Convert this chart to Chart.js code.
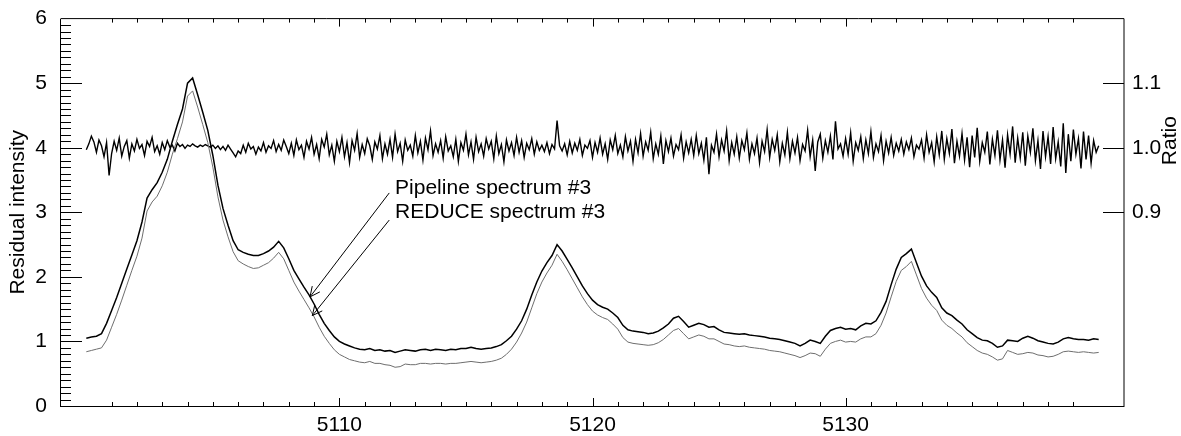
<!DOCTYPE html>
<html>
<head>
<meta charset="utf-8">
<script src="https://cdn.jsdelivr.net/npm/chart.js@4.4.1/dist/chart.umd.min.js"></script>
<style>
  html, body { margin: 0; padding: 0; background: #fff; }
  canvas { display: block; }
</style>
</head>
<body>
<canvas id="myChart" width="1181" height="436"></canvas>
<script>
// wavelength grid (Angstrom), 0.1 step
const wave = [
    5100.0,5100.1,5100.2,5100.3,5100.4,5100.5,5100.6,5100.7,5100.8,5100.9,
    5101.0,5101.1,5101.2,5101.3,5101.4,5101.5,5101.6,5101.7,5101.8,5101.9,
    5102.0,5102.1,5102.2,5102.3,5102.4,5102.5,5102.6,5102.7,5102.8,5102.9,
    5103.0,5103.1,5103.2,5103.3,5103.4,5103.5,5103.6,5103.7,5103.8,5103.9,
    5104.0,5104.1,5104.2,5104.3,5104.4,5104.5,5104.6,5104.7,5104.8,5104.9,
    5105.0,5105.1,5105.2,5105.3,5105.4,5105.5,5105.6,5105.7,5105.8,5105.9,
    5106.0,5106.1,5106.2,5106.3,5106.4,5106.5,5106.6,5106.7,5106.8,5106.9,
    5107.0,5107.1,5107.2,5107.3,5107.4,5107.5,5107.6,5107.7,5107.8,5107.9,
    5108.0,5108.1,5108.2,5108.3,5108.4,5108.5,5108.6,5108.7,5108.8,5108.9,
    5109.0,5109.1,5109.2,5109.3,5109.4,5109.5,5109.6,5109.7,5109.8,5109.9,
    5110.0,5110.1,5110.2,5110.3,5110.4,5110.5,5110.6,5110.7,5110.8,5110.9,
    5111.0,5111.1,5111.2,5111.3,5111.4,5111.5,5111.6,5111.7,5111.8,5111.9,
    5112.0,5112.1,5112.2,5112.3,5112.4,5112.5,5112.6,5112.7,5112.8,5112.9,
    5113.0,5113.1,5113.2,5113.3,5113.4,5113.5,5113.6,5113.7,5113.8,5113.9,
    5114.0,5114.1,5114.2,5114.3,5114.4,5114.5,5114.6,5114.7,5114.8,5114.9,
    5115.0,5115.1,5115.2,5115.3,5115.4,5115.5,5115.6,5115.7,5115.8,5115.9,
    5116.0,5116.1,5116.2,5116.3,5116.4,5116.5,5116.6,5116.7,5116.8,5116.9,
    5117.0,5117.1,5117.2,5117.3,5117.4,5117.5,5117.6,5117.7,5117.8,5117.9,
    5118.0,5118.1,5118.2,5118.3,5118.4,5118.5,5118.6,5118.7,5118.8,5118.9,
    5119.0,5119.1,5119.2,5119.3,5119.4,5119.5,5119.6,5119.7,5119.8,5119.9,
    5120.0,5120.1,5120.2,5120.3,5120.4,5120.5,5120.6,5120.7,5120.8,5120.9,
    5121.0,5121.1,5121.2,5121.3,5121.4,5121.5,5121.6,5121.7,5121.8,5121.9,
    5122.0,5122.1,5122.2,5122.3,5122.4,5122.5,5122.6,5122.7,5122.8,5122.9,
    5123.0,5123.1,5123.2,5123.3,5123.4,5123.5,5123.6,5123.7,5123.8,5123.9,
    5124.0,5124.1,5124.2,5124.3,5124.4,5124.5,5124.6,5124.7,5124.8,5124.9,
    5125.0,5125.1,5125.2,5125.3,5125.4,5125.5,5125.6,5125.7,5125.8,5125.9,
    5126.0,5126.1,5126.2,5126.3,5126.4,5126.5,5126.6,5126.7,5126.8,5126.9,
    5127.0,5127.1,5127.2,5127.3,5127.4,5127.5,5127.6,5127.7,5127.8,5127.9,
    5128.0,5128.1,5128.2,5128.3,5128.4,5128.5,5128.6,5128.7,5128.8,5128.9,
    5129.0,5129.1,5129.2,5129.3,5129.4,5129.5,5129.6,5129.7,5129.8,5129.9,
    5130.0,5130.1,5130.2,5130.3,5130.4,5130.5,5130.6,5130.7,5130.8,5130.9,
    5131.0,5131.1,5131.2,5131.3,5131.4,5131.5,5131.6,5131.7,5131.8,5131.9,
    5132.0,5132.1,5132.2,5132.3,5132.4,5132.5,5132.6,5132.7,5132.8,5132.9,
    5133.0,5133.1,5133.2,5133.3,5133.4,5133.5,5133.6,5133.7,5133.8,5133.9,
    5134.0,5134.1,5134.2,5134.3,5134.4,5134.5,5134.6,5134.7,5134.8,5134.9,
    5135.0,5135.1,5135.2,5135.3,5135.4,5135.5,5135.6,5135.7,5135.8,5135.9,
    5136.0,5136.1,5136.2,5136.3,5136.4,5136.5,5136.6,5136.7,5136.8,5136.9,
    5137.0,5137.1,5137.2,5137.3,5137.4,5137.5,5137.6,5137.7,5137.8,5137.9,
    5138.0,5138.1,5138.2,5138.3,5138.4,5138.5,5138.6,5138.7,5138.8,5138.9,
    5139.0,5139.1,5139.2,5139.3,5139.4,5139.5,5139.6,5139.7,5139.8,5139.9,
    5140.0
];

// spectra are sampled every 0.2 A (every other wave point)
const pipeline = [
    1.05,1.07,1.08,1.12,1.28,1.48,1.68,1.90,2.12,2.34,
    2.56,2.85,3.22,3.35,3.46,3.62,3.82,4.10,4.36,4.60,
    5.00,5.08,4.82,4.55,4.27,3.88,3.42,3.06,2.80,2.56,
    2.42,2.38,2.35,2.33,2.33,2.36,2.40,2.46,2.55,2.45,
    2.28,2.10,1.97,1.84,1.72,1.58,1.42,1.28,1.17,1.07,
    1.00,0.96,0.93,0.90,0.88,0.87,0.89,0.86,0.87,0.85,
    0.86,0.83,0.85,0.87,0.86,0.85,0.87,0.88,0.86,0.88,
    0.87,0.86,0.88,0.87,0.89,0.89,0.91,0.89,0.88,0.89,
    0.90,0.92,0.95,1.01,1.08,1.19,1.32,1.50,1.72,1.92,
    2.09,2.22,2.33,2.50,2.40,2.27,2.14,2.00,1.86,1.74,
    1.64,1.57,1.53,1.50,1.44,1.37,1.25,1.18,1.16,1.15,
    1.14,1.12,1.13,1.16,1.21,1.27,1.36,1.39,1.31,1.22,
    1.25,1.28,1.26,1.22,1.23,1.18,1.14,1.13,1.12,1.11,
    1.12,1.10,1.09,1.08,1.07,1.05,1.04,1.03,1.01,0.99,
    0.97,0.93,0.97,1.02,1.00,0.97,1.08,1.17,1.20,1.22,
    1.19,1.20,1.18,1.24,1.28,1.27,1.32,1.45,1.62,1.88,
    2.12,2.30,2.36,2.43,2.22,2.01,1.86,1.76,1.68,1.52,
    1.44,1.40,1.33,1.27,1.18,1.12,1.06,1.02,1.01,0.97,
    0.91,0.93,1.02,1.01,1.00,1.05,1.08,1.05,1.01,0.99,
    0.97,0.96,0.99,1.04,1.06,1.04,1.03,1.03,1.02,1.04,
    1.03
];

const reduce = [
    0.84,0.86,0.88,0.90,1.02,1.22,1.42,1.64,1.87,2.10,
    2.32,2.60,3.02,3.16,3.25,3.41,3.62,3.90,4.14,4.40,
    4.80,4.88,4.63,4.36,4.08,3.70,3.24,2.88,2.62,2.39,
    2.25,2.20,2.16,2.13,2.14,2.18,2.22,2.29,2.38,2.28,
    2.10,1.92,1.78,1.65,1.52,1.38,1.22,1.08,0.97,0.87,
    0.80,0.76,0.72,0.70,0.68,0.67,0.69,0.66,0.66,0.64,
    0.63,0.60,0.61,0.65,0.64,0.64,0.66,0.66,0.65,0.66,
    0.66,0.65,0.66,0.66,0.67,0.68,0.69,0.68,0.67,0.68,
    0.69,0.71,0.74,0.80,0.88,0.99,1.13,1.30,1.52,1.74,
    1.92,2.06,2.18,2.35,2.24,2.11,1.97,1.83,1.69,1.57,
    1.47,1.41,1.37,1.34,1.27,1.19,1.06,0.99,0.97,0.96,
    0.95,0.94,0.95,0.98,1.03,1.10,1.17,1.20,1.12,1.04,
    1.07,1.10,1.08,1.04,1.04,1.00,0.96,0.95,0.93,0.92,
    0.93,0.91,0.90,0.89,0.88,0.86,0.85,0.84,0.82,0.80,
    0.78,0.75,0.78,0.82,0.81,0.77,0.88,0.97,1.00,1.02,
    0.99,1.00,0.99,1.04,1.07,1.07,1.12,1.25,1.44,1.69,
    1.93,2.10,2.16,2.24,2.03,1.82,1.67,1.56,1.48,1.33,
    1.25,1.20,1.13,1.07,0.98,0.92,0.86,0.82,0.80,0.76,
    0.71,0.73,0.86,0.83,0.80,0.81,0.83,0.82,0.79,0.78,
    0.76,0.77,0.80,0.84,0.85,0.84,0.83,0.84,0.83,0.82,
    0.83
];

// pipeline / REDUCE, every 0.1 A (right axis)
const ratio = [
    0.997,1.006,1.018,1.009,0.993,1.012,1.003,0.986,1.008,0.957,
    0.991,1.010,0.996,1.015,0.987,1.002,1.011,0.984,1.006,0.995,
    1.013,0.999,1.005,0.988,1.010,1.002,1.016,0.994,1.003,0.990,
    1.008,0.997,1.011,1.001,1.004,0.995,1.007,1.002,1.005,0.999,
    1.004,1.002,1.006,1.003,1.001,1.004,1.002,1.005,1.003,1.001,
    1.004,0.999,1.003,0.997,1.002,0.996,1.004,0.998,0.992,0.986,
    0.995,0.991,1.004,0.993,1.007,0.998,1.002,0.990,1.001,0.995,
    1.008,0.993,1.003,0.999,1.011,0.994,1.005,0.996,1.012,1.002,
    0.991,1.007,0.988,1.012,0.997,1.004,0.985,1.010,0.998,1.016,
    0.990,1.005,0.983,1.013,1.001,1.021,0.989,1.004,0.979,1.010,
    0.994,1.016,0.986,1.008,0.977,1.011,0.996,1.022,0.985,1.005,
    0.991,1.014,1.003,0.982,1.009,0.998,1.019,0.983,1.006,0.990,
    1.013,0.985,1.021,0.994,1.007,0.979,1.012,0.996,1.004,0.987,
    1.019,0.992,1.010,0.981,1.015,0.997,1.026,0.988,1.006,0.993,
    1.011,0.984,1.017,0.995,1.003,0.986,1.013,0.979,1.008,0.996,
    1.021,0.989,1.009,0.982,1.016,0.994,1.006,0.987,1.014,0.998,
    1.010,0.983,1.018,0.991,1.005,0.978,1.012,0.995,1.008,0.988,
    1.016,0.993,1.011,0.985,1.007,0.997,1.014,0.990,1.009,0.996,
    1.004,0.994,1.008,0.991,1.005,0.998,1.042,1.003,0.995,1.006,
    0.989,1.010,0.992,1.007,0.996,1.013,0.988,1.004,0.999,1.011,
    0.985,1.008,0.993,1.015,0.990,1.006,0.982,1.012,0.997,1.019,
    0.991,1.004,0.986,1.017,0.995,1.010,0.979,1.013,0.992,1.022,
    0.987,1.009,0.996,1.024,0.983,1.006,0.990,1.018,0.975,1.011,
    0.994,1.015,0.987,1.005,0.997,1.020,0.984,1.009,0.992,1.013,
    0.988,1.019,0.991,1.007,0.981,1.016,0.959,1.004,0.993,1.021,
    0.986,1.012,0.995,1.026,0.980,1.008,0.990,1.017,0.984,1.011,
    0.997,1.023,0.982,1.006,0.991,1.015,0.977,1.010,0.994,1.028,
    0.985,1.013,0.996,1.020,0.978,1.007,0.989,1.024,0.983,1.010,
    0.992,1.016,0.980,1.005,0.995,1.027,0.986,1.012,0.964,1.009,
    1.021,0.984,1.011,0.993,1.018,0.982,1.041,0.998,1.006,0.987,
    1.014,0.990,1.023,0.979,1.008,0.996,1.017,0.983,1.012,0.991,
    1.025,0.985,1.006,0.994,1.019,0.980,1.010,0.992,1.016,0.988,
    1.007,0.995,1.013,0.990,1.009,0.997,1.015,0.986,1.004,0.998,
    1.012,0.984,1.020,0.993,1.008,0.978,1.017,0.989,1.026,0.982,
    1.014,0.991,1.029,0.976,1.010,0.987,1.022,0.981,1.016,0.970,
    1.019,0.985,1.031,0.979,1.008,0.993,1.025,0.974,1.013,0.988,
    1.027,0.981,1.012,0.969,1.020,0.990,1.033,0.977,1.015,0.984,
    1.024,0.972,1.018,0.993,1.030,0.980,1.011,0.967,1.026,0.986,
    1.017,0.975,1.032,0.983,1.009,0.971,1.038,0.961,1.021,0.979,
    1.028,0.990,1.014,0.968,1.025,0.982,1.019,0.976,1.011,0.993,
    1.003
];

const x_ticks = [5110, 5120, 5130];
const y_ticks = [0, 1, 2, 3, 4, 5, 6];
const ratio_ticks = [0.9, 1.0, 1.1];
const note_labels = ['Pipeline spectrum #3', 'REDUCE spectrum #3'];

const FONT = '"Liberation Sans", Arial, Helvetica, sans-serif';
const spec_wave = wave.filter((w, i) => i % 2 === 0);
const toXY = (xs, ys) => ys.map((v, i) => ({x: xs[i], y: v}));

// note text + arrow, in data units of the left axis
const notes = [
    {text: note_labels[0], tx: 5112.2, ty: 3.29, from: [5111.97, 3.30], to: [5108.84, 1.69]},
    {text: note_labels[1], tx: 5112.2, ty: 2.91, from: [5111.97, 2.88], to: [5108.93, 1.40]},
];

const bgWhite = {
    id: 'bgWhite',
    beforeDraw(chart) {
        const ctx = chart.ctx;
        ctx.save();
        ctx.fillStyle = '#fff';
        ctx.fillRect(0, 0, chart.width, chart.height);
        ctx.restore();
    }
};

// IDL style box with inward ticks
const idlAxes = {
    id: 'idlAxes',
    afterDraw(chart) {
        const {ctx, chartArea: a} = chart;
        const {x, y, y2} = chart.scales;
        ctx.save();
        ctx.strokeStyle = '#000';
        ctx.lineWidth = 1;
        ctx.beginPath();
        ctx.moveTo(a.left - 0.5, a.top);
        ctx.lineTo(a.left - 0.5, a.bottom + 1);
        ctx.moveTo(a.left - 1, a.bottom + 0.5);
        ctx.lineTo(a.right, a.bottom + 0.5);
        ctx.moveTo(a.left, a.top);
        ctx.lineTo(a.right, a.top);
        ctx.moveTo(a.right, a.top);
        ctx.lineTo(a.right, a.bottom + 1);

        for (let v = 5101; v <= 5139; v++) {
            const len = v % 10 === 0 ? 8 : 4;
            const px = Math.round(x.getPixelForValue(v)) + 0.5;
            ctx.moveTo(px, a.bottom);
            ctx.lineTo(px, a.bottom - len);
            ctx.moveTo(px, a.top);
            ctx.lineTo(px, a.top + len);
        }
        for (let k = 1; k < 60; k++) {
            const len = k % 10 === 0 ? 21 : 10;
            const py = Math.round(y.getPixelForValue(k / 10)) + 0.5;
            ctx.moveTo(a.left, py);
            ctx.lineTo(a.left + len, py);
        }
        ratio_ticks.forEach(v => {
            const py = Math.round(y2.getPixelForValue(v)) + 0.5;
            ctx.moveTo(a.right, py);
            ctx.lineTo(a.right - 21, py);
        });
        ctx.stroke();

        // right axis title
        ctx.fillStyle = '#000';
        ctx.font = '21px ' + FONT;
        ctx.textAlign = 'center';
        ctx.textBaseline = 'middle';
        ctx.translate(a.right + 46, y2.getPixelForValue(1.011));
        ctx.rotate(-Math.PI / 2);
        ctx.fillText('Ratio', 0, 0);
        ctx.restore();
    }
};

const noteArrows = {
    id: 'noteArrows',
    afterDatasetsDraw(chart) {
        const {ctx} = chart;
        const {x, y} = chart.scales;
        ctx.save();
        ctx.strokeStyle = '#000';
        ctx.fillStyle = '#000';
        ctx.lineWidth = 1;
        ctx.font = '21px ' + FONT;
        ctx.textAlign = 'left';
        ctx.textBaseline = 'alphabetic';
        notes.forEach(n => {
            ctx.fillText(n.text, x.getPixelForValue(n.tx), y.getPixelForValue(n.ty));
            const x0 = x.getPixelForValue(n.from[0]), y0 = y.getPixelForValue(n.from[1]);
            const x1 = x.getPixelForValue(n.to[0]), y1 = y.getPixelForValue(n.to[1]);
            const ang = Math.atan2(y1 - y0, x1 - x0);
            const h = 11, spread = 0.45;
            ctx.beginPath();
            ctx.moveTo(x0, y0);
            ctx.lineTo(x1, y1);
            ctx.moveTo(x1 - h * Math.cos(ang - spread), y1 - h * Math.sin(ang - spread));
            ctx.lineTo(x1, y1);
            ctx.lineTo(x1 - h * Math.cos(ang + spread), y1 - h * Math.sin(ang + spread));
            ctx.stroke();
        });
        ctx.restore();
    }
};

const tickFont = {family: FONT, size: 21};

const myChart = new Chart('myChart', {
    type: 'line',
    data: {
        datasets: [
            {
                label: 'REDUCE spectrum #3',
                data: toXY(spec_wave, reduce),
                borderColor: '#6e6e6e',
                borderWidth: 1,
                yAxisID: 'y',
            },
            {
                label: 'Pipeline spectrum #3',
                data: toXY(spec_wave, pipeline),
                borderColor: '#000',
                borderWidth: 1.5,
                yAxisID: 'y',
            },
            {
                label: 'Ratio',
                data: toXY(wave, ratio),
                borderColor: '#000',
                borderWidth: 1.4,
                yAxisID: 'y2',
            },
        ]
    },
    options: {
        responsive: false,
        animation: false,
        devicePixelRatio: 1,
        layout: {padding: {top: 12, left: 0, right: 0, bottom: 0}},
        elements: {
            point: {radius: 0},
            line: {tension: 0, fill: false}
        },
        plugins: {
            legend: {display: false},
            tooltip: {enabled: false}
        },
        scales: {
            x: {
                type: 'linear',
                min: 5099,
                max: 5141,
                grid: {display: false},
                border: {display: false},
                afterBuildTicks: s => { s.ticks = x_ticks.map(v => ({value: v})); },
                afterFit: s => { s.height = 30; },
                ticks: {
                    font: tickFont,
                    color: '#000',
                    padding: -1,
                    maxRotation: 0,
                    autoSkip: false,
                    callback: v => String(v)
                }
            },
            y: {
                type: 'linear',
                position: 'left',
                min: 0,
                max: 6,
                grid: {display: false},
                border: {display: false},
                afterBuildTicks: s => { s.ticks = y_ticks.map(v => ({value: v})); },
                afterFit: s => { s.width = 61; },
                ticks: {
                    font: tickFont,
                    color: '#000',
                    padding: 6,
                    callback: v => String(v)
                },
                title: {
                    display: true,
                    text: 'Residual intensity',
                    font: tickFont,
                    color: '#000',
                    padding: {top: 6, bottom: 0}
                }
            },
            y2: {
                type: 'linear',
                position: 'right',
                min: 0.6,
                max: 1.2,
                grid: {display: false},
                border: {display: false},
                afterBuildTicks: s => { s.ticks = ratio_ticks.map(v => ({value: v})); },
                afterFit: s => { s.width = 57; },
                ticks: {
                    font: tickFont,
                    color: '#000',
                    padding: 0,
                    callback: v => v.toFixed(1)
                }
            }
        }
    },
    plugins: [bgWhite, idlAxes, noteArrows]
});
</script>
</body>
</html>
